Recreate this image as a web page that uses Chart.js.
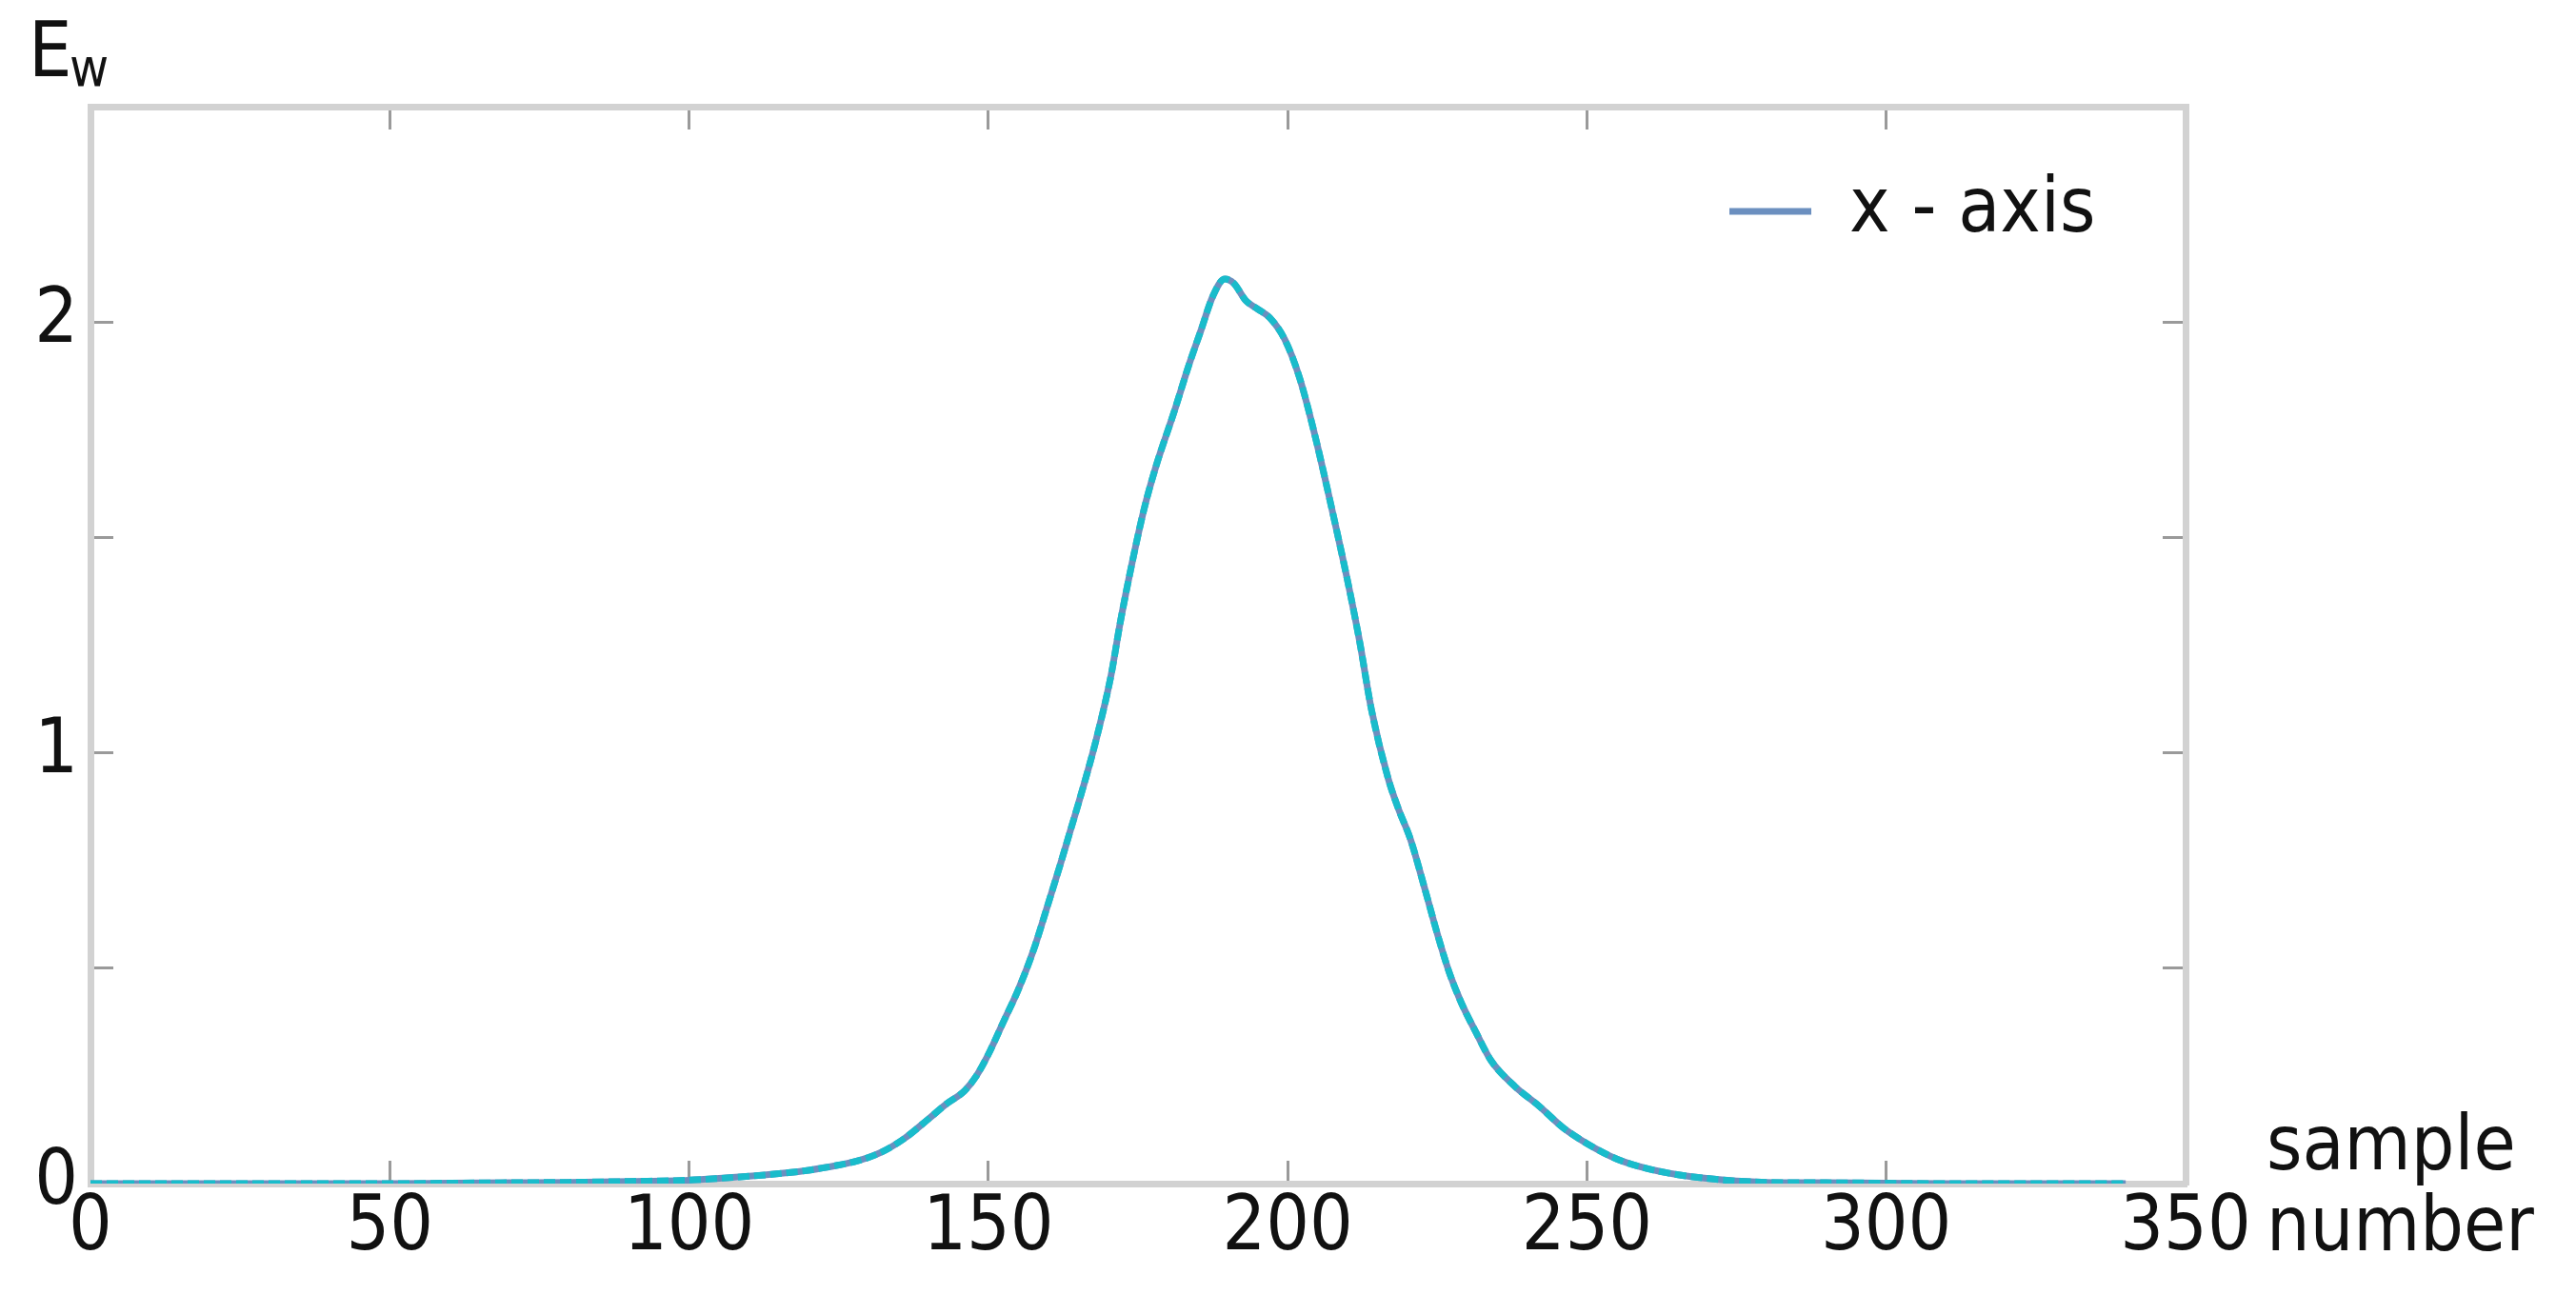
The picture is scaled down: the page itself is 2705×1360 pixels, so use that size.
<!DOCTYPE html>
<html>
<head>
<meta charset="utf-8">
<script src="https://cdn.jsdelivr.net/npm/chart.js@4.4.1/dist/chart.umd.min.js"></script>
<style>
  html, body { margin: 0; padding: 0; background: #fff; }
  #wrap { width: 2705px; height: 1360px; }
</style>
</head>
<body>
<div id="wrap"><canvas id="grafico" width="2705" height="1360"></canvas></div>
<script>
// sample number (x) and E_w (y)
const sampleNumbers = [0, 10, 20, 30, 40, 50, 60, 70, 80, 90, 100, 105, 110, 115, 120, 125, 128, 132, 136, 140,
  143, 146, 148, 150, 152.5, 155, 157.5, 160, 162, 163.5, 165, 168, 170.5, 172, 174, 176, 178, 181, 183.5, 185.5,
  187.5, 189.5, 191, 193, 195, 197, 199.5, 202, 204.5, 207, 210, 212, 214, 216.8, 218.5, 220.5, 223, 225, 227, 229,
  231.5, 234, 238, 242, 246, 250, 255, 260, 265, 270, 275, 280, 290, 300, 310, 320, 330, 340];
const ewValues = [0, 0, 0, 0, 0, 0, 0.001, 0.002, 0.003, 0.005, 0.008, 0.012, 0.017, 0.023, 0.031, 0.043, 0.052, 0.072, 0.105, 0.15,
  0.185, 0.215, 0.25, 0.3, 0.375, 0.45, 0.54, 0.65, 0.74, 0.81, 0.88, 1.03, 1.18, 1.30, 1.44, 1.565, 1.665, 1.79, 1.90, 1.98,
  2.06, 2.10, 2.09, 2.05, 2.03, 2.01, 1.96, 1.87, 1.74, 1.59, 1.40, 1.26, 1.10, 0.94, 0.87, 0.80, 0.68, 0.58, 0.49, 0.42,
  0.35, 0.285, 0.225, 0.18, 0.13, 0.093, 0.057, 0.035, 0.021, 0.012, 0.006, 0.003, 0.002, 0.001, 0, 0, 0, 0];

const xTicks = [0, 50, 100, 150, 200, 250, 300, 350];
const yLabels = [0, 1, 2];
const seriesLabel = 'x - axis';

const fonte = '"DejaVu Sans Condensed", "DejaVu Sans", sans-serif';
const corTexto = '#111';
const corBorda = '#d2d2d2';
const corTick = '#9a9a9a';

const pontos = sampleNumbers.map((x, i) => ({ x: x, y: ewValues[i] }));

// ticks pointing inward on all four sides
const gradeTicks = { drawOnChartArea: false, drawTicks: true, tickLength: -24, color: corTick, lineWidth: 3 };
const borda = { display: true, color: corBorda, width: 7 };

// legend sits inside the plot, upper right
// (a chartArea legend is laid out from top = 0, so the offset is taken from the canvas top)
const moverLegenda = {
  id: 'moverLegenda',
  afterLayout(chart) {
    const lg = chart.legend;
    if (!lg) return;
    const ca = chart.chartArea;
    const dx = Math.round((ca.right - ca.left) * 0.78) - 5;
    const dy = ca.top + 60;
    lg.left += dx; lg.right += dx;
    lg.top += dy; lg.bottom += dy;
  }
};

// E_w and "sample number" labels
const textosEixo = {
  id: 'textosEixo',
  afterDraw(chart) {
    const { ctx, chartArea } = chart;
    ctx.save();
    ctx.fillStyle = corTexto;
    ctx.textBaseline = 'alphabetic';
    ctx.textAlign = 'left';
    ctx.font = '80px ' + fonte;
    ctx.fillText('E', chartArea.left - 65, chartArea.top - 32);
    ctx.font = '56px ' + fonte;
    ctx.fillText('w', chartArea.left - 22, chartArea.top - 22);
    ctx.font = '80px ' + fonte;
    ctx.fillText('sample', chartArea.right + 85, chartArea.bottom - 15);
    ctx.fillText('number', chartArea.right + 85, chartArea.bottom + 70);
    ctx.restore();
  }
};

new Chart(document.getElementById('grafico'), {
  type: 'line',
  data: {
    datasets: [
      {
        label: seriesLabel,
        data: pontos,
        borderColor: '#6b8fbf',
        borderWidth: 7,
        pointRadius: 0,
        pointStyle: 'line',
        cubicInterpolationMode: 'monotone',
        order: 1
      },
      {
        label: 'overlay',
        data: pontos,
        borderColor: '#19bccb',
        borderWidth: 7,
        borderDash: [12, 5],
        pointRadius: 0,
        pointStyle: 'line',
        cubicInterpolationMode: 'monotone',
        order: 0
      }
    ]
  },
  options: {
    responsive: false,
    animation: false,
    layout: { padding: { top: 112, right: 410, left: 0, bottom: 0 } },
    plugins: {
      tooltip: { enabled: false },
      legend: {
        position: 'chartArea',
        align: 'start',
        labels: {
          filter: item => item.text === seriesLabel,
          usePointStyle: true,
          pointStyleWidth: 86,
          padding: 10,
          color: corTexto,
          font: { family: fonte, size: 80 }
        }
      }
    },
    scales: {
      x: {
        type: 'linear',
        position: 'bottom',
        min: 0,
        max: 350,
        afterBuildTicks: s => { s.ticks = xTicks.map(v => ({ value: v })); },
        afterFit: s => { s.height = 117; },
        grid: gradeTicks,
        border: borda,
        ticks: {
          autoSkip: false,
          maxRotation: 0,
          padding: 24,
          color: corTexto,
          font: { family: fonte, size: 80 }
        }
      },
      xTopo: {
        type: 'linear',
        position: 'top',
        min: 0,
        max: 350,
        afterBuildTicks: s => { s.ticks = xTicks.map(v => ({ value: v })); },
        afterFit: s => { s.height = 0; },
        grid: gradeTicks,
        border: borda,
        ticks: { display: false }
      },
      y: {
        position: 'left',
        min: 0,
        max: 2.5,
        afterFit: s => { s.width = 95; },
        grid: gradeTicks,
        border: borda,
        ticks: {
          stepSize: 0.5,
          padding: 37,
          color: corTexto,
          font: { family: fonte, size: 80 },
          callback: v => yLabels.includes(v) ? String(v) : ''
        }
      },
      yDireita: {
        position: 'right',
        min: 0,
        max: 2.5,
        afterFit: s => { s.width = 0; },
        grid: gradeTicks,
        border: borda,
        ticks: { display: true, stepSize: 0.5, callback: () => '' }
      }
    }
  },
  plugins: [moverLegenda, textosEixo]
});
</script>
</body>
</html>
